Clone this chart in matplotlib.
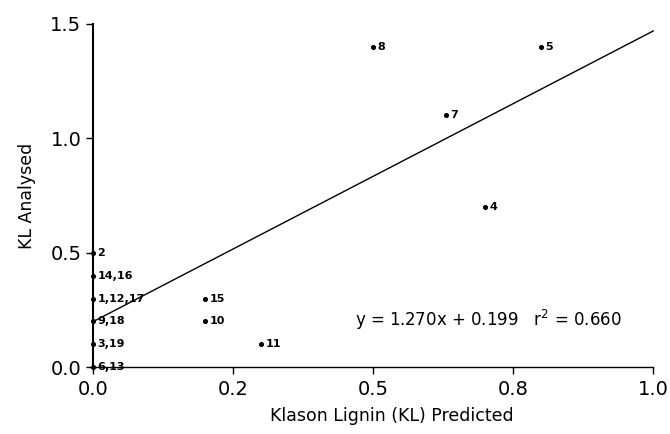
import matplotlib.pyplot as plt

# KL predicted (x) vs analysed (y), one label per plotted point
pred = [0.0, 0.0, 0.0, 0.0, 0.0, 0.0, 0.2, 0.2, 0.3, 0.7, 0.63, 0.5, 0.8]
analysed = [0.0, 0.1, 0.2, 0.3, 0.4, 0.5, 0.3, 0.2, 0.1, 0.7, 1.1, 1.4, 1.4]
labels = ['6,13', '3,19', '9,18', '1,12,17', '14,16', '2',
          '15', '10', '11', '4', '7', '8', '5']

# regression line end points
fit_x = [0.0, 1.0]
fit_y = [0.199, 1.469]

xticks = [0.0, 0.25, 0.5, 0.75, 1.0]
xtick_labels = ['0.0', '0.2', '0.5', '0.8', '1.0']
yticks = [0.0, 0.5, 1.0, 1.5]
ytick_labels = ['0.0', '0.5', '1.0', '1.5']

plt.rcParams['font.family'] = ['DejaVu Sans']

fig = plt.figure(figsize=(6.7, 4.34), dpi=100)
ax = fig.add_axes([0.139, 0.154, 0.836, 0.791])

ax.plot(fit_x, fit_y, color='black', linewidth=1.0, clip_on=False)
ax.scatter(pred, analysed, s=7, color='black', zorder=3, clip_on=False)

for x, y, lab in zip(pred, analysed, labels):
    ax.annotate(lab, (x, y), xytext=(3, 0), textcoords='offset points',
                ha='left', va='center', fontsize=8, fontweight='bold')

ax.text(0.468, 0.205, 'y = 1.270x + 0.199   r$^2$ = 0.660',
        fontsize=12, ha='left', va='center')

ax.set_xlim(0, 1.0)
ax.set_ylim(0, 1.5)
ax.set_xticks(xticks)
ax.set_xticklabels(xtick_labels)
ax.set_yticks(yticks)
ax.set_yticklabels(ytick_labels)
ax.tick_params(labelsize=14, length=5, width=1, direction='out')
ax.tick_params(axis='x', pad=4)

ax.set_xlabel('Klason Lignin (KL) Predicted', fontsize=12.5, labelpad=8)
ax.xaxis.set_label_coords(0.534, -0.115)
ax.set_ylabel('KL Analysed', fontsize=12.5, labelpad=10)

ax.spines['top'].set_visible(False)
ax.spines['right'].set_visible(False)
ax.spines['left'].set_linewidth(1.5)
ax.spines['bottom'].set_linewidth(1.0)

plt.savefig('out.png', dpi=100)
